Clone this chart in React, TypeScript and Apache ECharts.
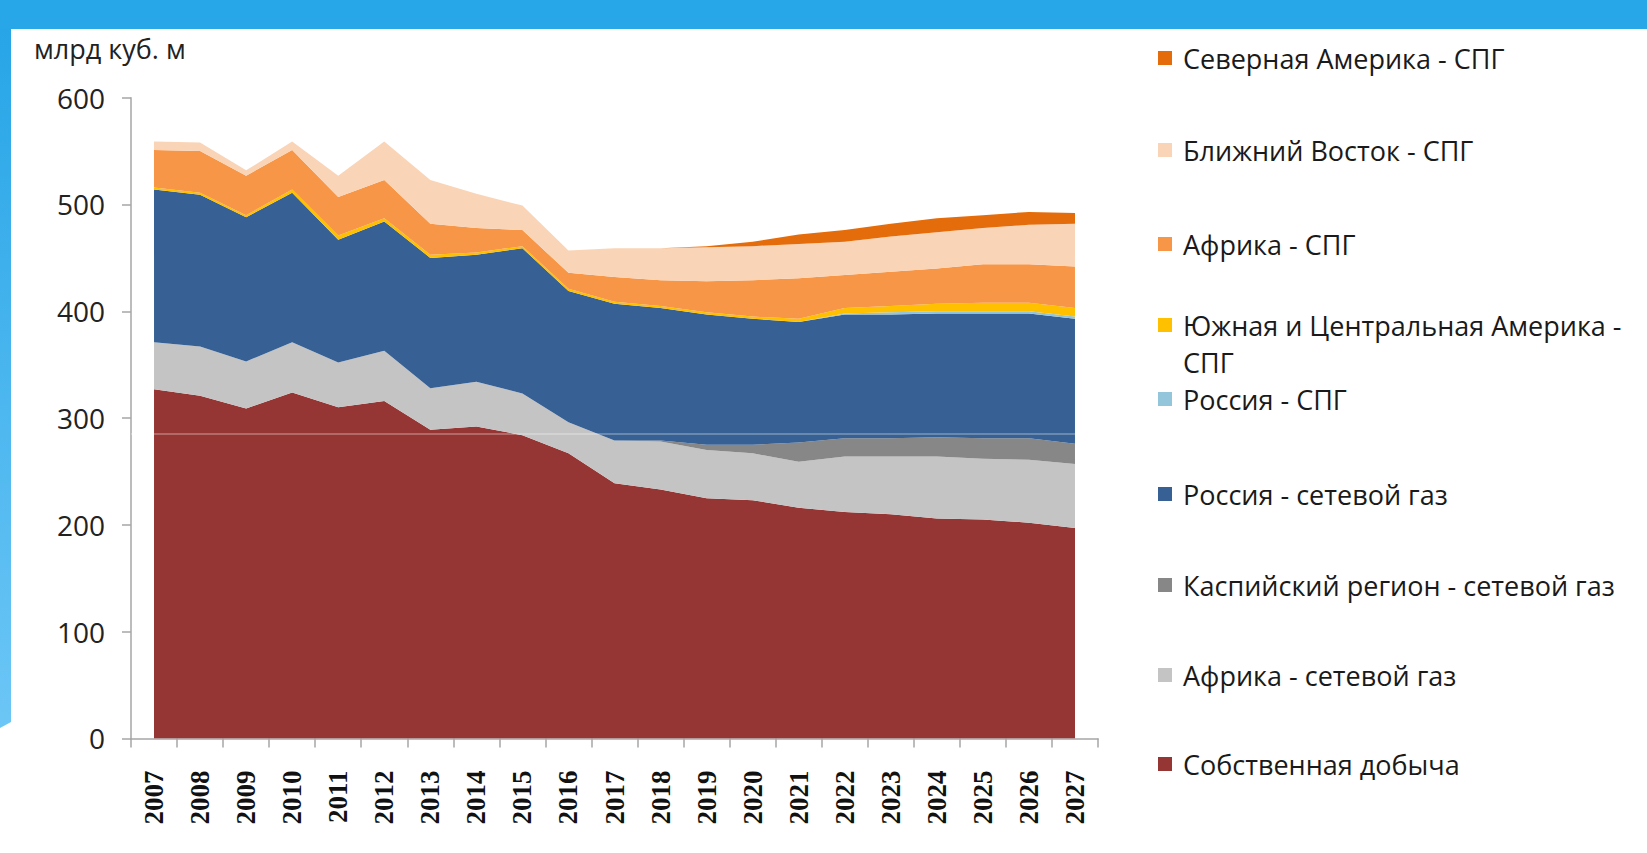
import React, { useEffect, useRef } from "react";
import * as echarts from "echarts";

const years = ["2007","2008","2009","2010","2011","2012","2013","2014","2015","2016","2017","2018","2019","2020","2021","2022","2023","2024","2025","2026","2027"];

const ownProduction   = [327,321,309,324,310,316,289,292,284,267,239,233,225,223,216,212,210,206,205,202,197];
const africaPipeline  = [44,46,44,47,42,47,39,42,39,29,40,45,45,44,43,52,54,58,57,59,60];
const caspianPipeline = [0,0,0,0,0,0,0,0,0,0,0,1,5,8,18,17,17,18,19,20,19];
const russiaPipeline  = [143,142,135,140,115,121,122,119,136,123,128,124,122,118,113,116,116,116,117,117,117];
const russiaLng       = [0,0,0,0,0,0,0,0,0,0,0,0,0,0,0,1,2,2,2,2,2];
const scAmericaLng    = [2,2,2,3,4,3,3,2,2,2,2,2,2,2,3,5,6,7,8,8,8];
const africaLng       = [35,39,37,37,36,36,29,23,15,15,23,24,29,34,38,31,32,33,36,36,39];
const middleEastLng   = [8,8,5,8,20,36,41,32,23,21,27,30,32,32,32,31,33,34,34,37,40];
const northAmericaLng = [0,0,0,0,0,0,0,0,0,0,0,0,1,4,9,11,12,13,12,12,10];

const seriesDefs = [
  { name: "Собственная добыча", data: ownProduction, color: "#963634" },
  { name: "Африка - сетевой газ", data: africaPipeline, color: "#C4C4C4" },
  { name: "Каспийский регион - сетевой газ", data: caspianPipeline, color: "#878787" },
  { name: "Россия - сетевой газ", data: russiaPipeline, color: "#376094" },
  { name: "Россия - СПГ", data: russiaLng, color: "#93C6DA" },
  { name: "Южная и Центральная Америка - СПГ", data: scAmericaLng, color: "#FFC000" },
  { name: "Африка - СПГ", data: africaLng, color: "#F79646" },
  { name: "Ближний Восток - СПГ", data: middleEastLng, color: "#FAD4B6" },
  { name: "Северная Америка - СПГ", data: northAmericaLng, color: "#E46C0A" },
];

const legendOrder = [
  "Северная Америка - СПГ",
  "Ближний Восток - СПГ",
  "Африка - СПГ",
  "Южная и Центральная Америка - СПГ",
  "Россия - СПГ",
  "Россия - сетевой газ",
  "Каспийский регион - сетевой газ",
  "Африка - сетевой газ",
  "Собственная добыча",
];
const legendCenters = [58, 150, 244, 325, 399, 494, 585, 675, 764];

const FONT = '"Open Sans", "Noto Sans", sans-serif';

export default function App() {
  const ref = useRef<HTMLDivElement>(null);
  useEffect(() => {
    if (!ref.current) return;
    const chart = echarts.init(ref.current, null, { renderer: "svg" });
    const axisColor = "#A6A6A6";
    const legends = legendOrder.map((name, i) => ({
      data: [name],
      left: 1158,
      top: legendCenters[i] - 16,
      padding: 0,
      icon: "rect",
      itemWidth: 14,
      itemHeight: 14,
      selectedMode: false,
      formatter: (n: string) => (n === "Южная и Центральная Америка - СПГ" ? "Южная и Центральная Америка -" : n),
      textStyle: { fontFamily: FONT, fontSize: 27, color: "#1a1a1a", lineHeight: 32, padding: [0, 0, 0, 6] },
    }));
    const series = seriesDefs.map((s, i) => ({
      name: s.name,
      type: "line",
      stack: "total",
      data: s.data,
      showSymbol: false,
      symbol: "none",
      lineStyle: { width: 0 },
      itemStyle: { color: s.color },
      areaStyle: { color: s.color, opacity: 1 },
      emphasis: { disabled: true },
      ...(i === seriesDefs.length - 1
        ? {
            markLine: {
              silent: true,
              symbol: "none",
              label: { show: false },
              lineStyle: { color: "rgba(255,255,255,0.35)", width: 1.5, type: "solid" },
              data: [{ yAxis: 285 }],
            },
          }
        : {}),
    }));
    chart.setOption({
      animation: false,
      backgroundColor: "#ffffff",
      grid: { left: 131, right: 549, top: 97.7, bottom: 114.6 },
      legend: legends,
      xAxis: {
        type: "category",
        data: years,
        boundaryGap: true,
        axisLine: { lineStyle: { color: axisColor, width: 1.5 } },
        axisTick: { show: true, interval: 0, length: 9, lineStyle: { color: axisColor, width: 1.5 } },
        axisLabel: {
          interval: 0,
          rotate: 90,
          margin: 32,
          fontFamily: '"Liberation Serif", "Times New Roman", serif',
          fontWeight: "bold",
          fontSize: 27,
          color: "#111",
        },
      },
      yAxis: {
        type: "value",
        min: 0,
        max: 600,
        interval: 100,
        splitLine: { show: false },
        axisLine: { show: true, lineStyle: { color: axisColor, width: 1.5 } },
        axisTick: { show: true, length: 9, lineStyle: { color: axisColor, width: 1.5 } },
        axisLabel: { margin: 26, fontSize: 28, fontFamily: FONT, color: "#222" },
      },
      series,
      graphic: [
        { type: "rect", shape: { x: 0, y: 0, width: 1647, height: 29 }, style: { fill: "#28A7E8" }, silent: true },
        {
          type: "polygon",
          shape: { points: [[0, 29], [11, 29], [11, 722], [0, 728]] },
          style: {
            fill: new echarts.graphic.LinearGradient(0, 0, 0, 1, [
              { offset: 0, color: "#27A5E7" },
              { offset: 1, color: "#6CC6F6" },
            ]),
          },
          silent: true,
        },
        {
          type: "text",
          x: 34,
          y: 48,
          style: { text: "млрд куб. м", fontFamily: FONT, fontSize: 27, fill: "#222", verticalAlign: "middle" },
          silent: true,
        },
        {
          type: "text",
          x: 1183,
          y: 362,
          style: { text: "СПГ", fontFamily: FONT, fontSize: 27, fill: "#1a1a1a", verticalAlign: "middle" },
          silent: true,
        },
      ],
    });
    return () => chart.dispose();
  }, []);
  return (
    <div
      ref={ref}
      style={{ position: "fixed", left: 0, top: 0, width: "1647px", height: "853px", background: "#fff" }}
    />
  );
}
